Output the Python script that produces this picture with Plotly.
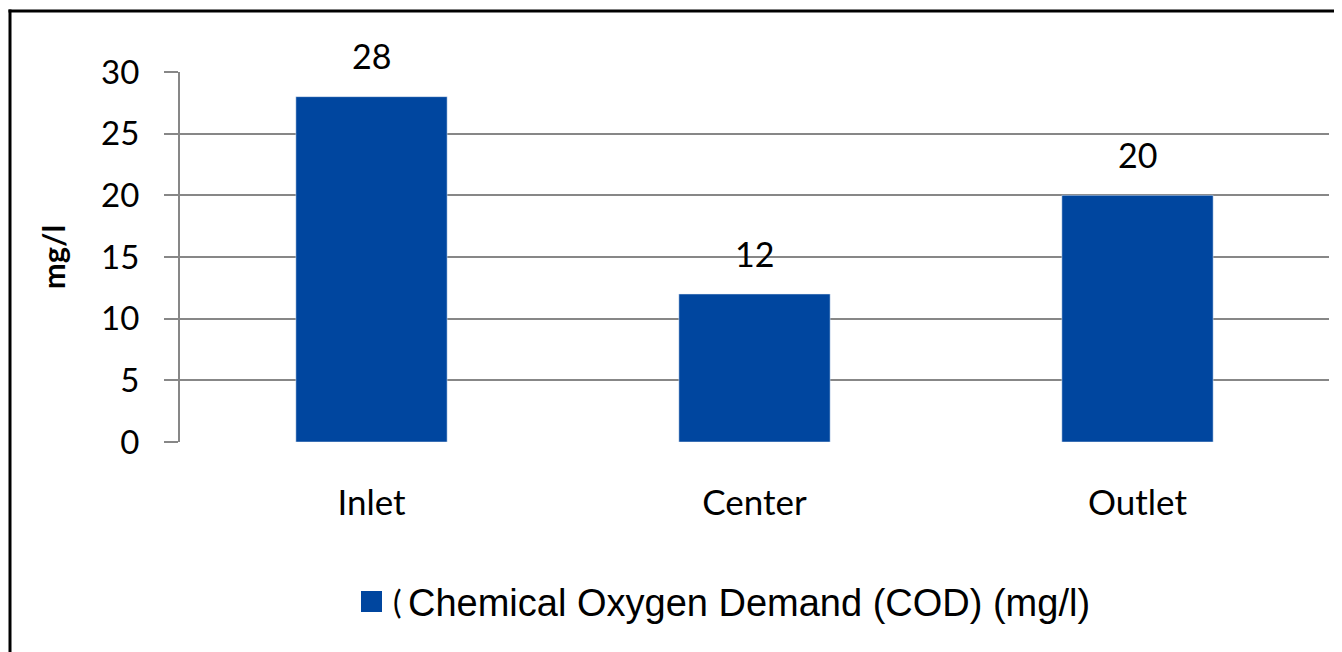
import plotly.graph_objects as go

categories = ["Inlet", "Center", "Outlet"]
cod_values = [28, 12, 20]
series_name = "Chemical Oxygen Demand (COD) (mg/l)"
y_ticks = [0, 5, 10, 15, 20, 25, 30]

BAR_COLOR = "#00469F"
GRID = "#878787"
OFF = 8  # page body margin: screen pixel = figure pixel + OFF
W, H = 1342 - OFF, 652 - OFF
L, R, T, B = 172, 13, 64, 210
PW, PH = W - L - R, H - T - B

def sx(p):  # screen px -> paper x
    return (p - OFF - L) / PW

def sy(p):  # screen px -> paper y
    return (H - B - (p - OFF)) / PH

fig = go.Figure()
fig.add_trace(go.Bar(
    x=categories, y=cod_values, name=series_name, marker_color=BAR_COLOR,
    width=0.395, showlegend=False, hoverinfo="x+y",
))

annotations = []
for c, v in zip(categories, cod_values):
    annotations.append(dict(
        x=c, y=v, xref="x", yref="y", text=str(v), showarrow=False,
        yshift=41, yanchor="middle",
        font=dict(family="Lato", size=34, color="#000000"),
    ))
# legend (key square + label)
annotations.append(dict(
    x=sx(397), y=sy(601), xref="paper", yref="paper",
    text="(", showarrow=False, xanchor="center", yanchor="middle",
    font=dict(family="Lato", size=32, color="#000000"),
))
annotations.append(dict(
    x=sx(406), y=sy(603), xref="paper", yref="paper",
    text=series_name, showarrow=False, xanchor="left", yanchor="middle",
    font=dict(family="Liberation Sans, Arial", size=38, color="#000000"),
))

fig.update_layout(
    width=W, height=H,
    margin=dict(l=L, r=R, t=T, b=B, autoexpand=False),
    paper_bgcolor="white", plot_bgcolor="white",
    font=dict(family="Lato", color="#000000"),
    showlegend=False,
    xaxis=dict(
        range=[-0.5, 2.5],
        showgrid=False, zeroline=False, showline=False, ticks="",
        tickfont=dict(family="Lato", size=35, color="#000000"),
        ticklabelstandoff=37,
    ),
    yaxis=dict(
        range=[0, 30], tickvals=y_ticks, ticktext=[str(t) for t in y_ticks],
        showgrid=True, gridcolor=GRID, gridwidth=2,
        zeroline=False, showline=True, linecolor=GRID, linewidth=2,
        ticks="outside", ticklen=14, tickcolor=GRID, tickwidth=2,
        tickfont=dict(family="Lato", size=33, color="#000000"),
        ticklabelstandoff=18,
        title=dict(text="<b>mg/l</b>", font=dict(family="Lato", size=31, color="#000000"),
                   standoff=26),
    ),
    annotations=annotations,
    shapes=[
        dict(
            type="line", xref="paper", yref="paper",
            x0=sx(10), x1=sx(10), y0=sy(700), y1=sy(9.5),
            line=dict(color="#000000", width=3), layer="above",
        ),
        dict(
            type="line", xref="paper", yref="paper",
            x0=sx(8.5), x1=sx(1400), y0=sy(11), y1=sy(11),
            line=dict(color="#000000", width=3), layer="above",
        ),
        dict(
            type="rect", xref="paper", yref="paper",
            x0=sx(361), x1=sx(382), y0=sy(612), y1=sy(591),
            line=dict(width=0), fillcolor=BAR_COLOR,
        ),
    ],
)

fig.write_html("out.html")
